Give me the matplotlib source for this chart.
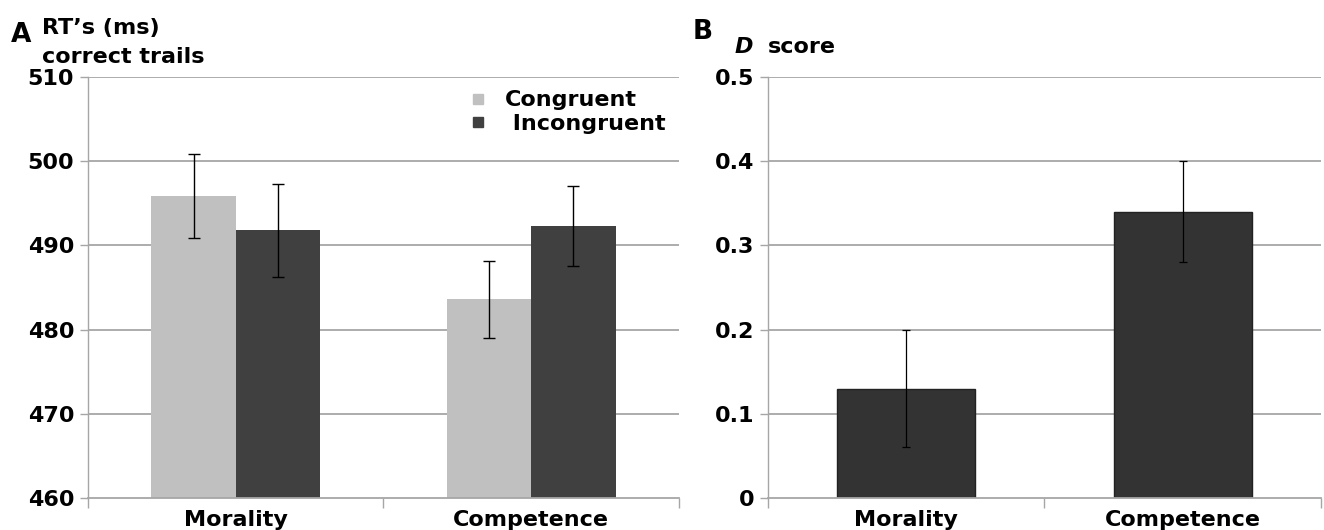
import matplotlib
matplotlib.use("Agg")
import matplotlib.pyplot as plt
from matplotlib.lines import Line2D
import numpy as np

plt.rcParams.update({
"font.family": "DejaVu Sans",
"font.weight": "bold",
"axes.edgecolor": "#a6a6a6",
"xtick.color": "#a6a6a6",
"ytick.color": "#a6a6a6",
"figure.facecolor": "white"})

# data
categories = ["Morality", "Competence"]
congruent = [495.9, 483.6]
congruent_err = [5.0, 4.6]
incongruent = [491.8, 492.3]
incongruent_err = [5.5, 4.7]
d_score = [0.13, 0.34]
d_err = [0.07, 0.06]

rt_ticks = [460, 470, 480, 490, 500, 510]
d_ticks = [0, 0.1, 0.2, 0.3, 0.4, 0.5]
d_ticklabels = ["0", "0.1", "0.2", "0.3", "0.4", "0.5"]

light = "#c0c0c0"
dark = "#404040"
grid_c = "#a6a6a6"

fig = plt.figure(figsize=(13.24, 5.3), dpi=100)
axA = fig.add_axes([0.0665, 0.0604, 0.4463, 0.7943])
axB = fig.add_axes([0.580, 0.0604, 0.4177, 0.7943])

def style(ax, ticks, labels):
    ax.set_xlim(-0.5, 1.5)
    ax.set_ylim(ticks[0], ticks[-1])
    ax.set_yticks(ticks)
    ax.set_yticklabels(labels, fontsize=16, fontweight="bold", color="black")
    for t in ticks[1:]:
        ax.axhline(t, color=grid_c, lw=1.3, zorder=0)
    ax.set_xticks([0, 1])
    ax.set_xticklabels(categories, fontsize=16, fontweight="bold", color="black")
    ax.set_xticks([-0.5, 0.5, 1.5], minor=True)
    ax.tick_params(axis="x", which="major", length=0, pad=9)
    ax.tick_params(axis="x", which="minor", length=7, width=1, direction="out")
    ax.tick_params(axis="y", length=6, width=1, pad=4)
    for s in ["top", "right"]:
        ax.spines[s].set_visible(False)
    ax.spines["left"].set_linewidth(1)
    ax.spines["bottom"].set_linewidth(1.3)

# panel A
x = np.arange(len(categories))
w = 0.2857
ekw = dict(ecolor="black", elinewidth=1, capsize=4, capthick=1)
axA.bar(x - w / 2, congruent, w, color=light, yerr=congruent_err, error_kw=ekw, zorder=2)
axA.bar(x + w / 2, incongruent, w, color=dark, yerr=incongruent_err, error_kw=ekw, zorder=2)
style(axA, rt_ticks, [str(t) for t in rt_ticks])

handles = [Line2D([], [], marker="s", ls="", color=light, markersize=7),
           Line2D([], [], marker="s", ls="", color=dark, markersize=7)]
axA.legend(handles, ["Congruent", " Incongruent"], loc="upper right",
           bbox_to_anchor=(1.0, 1.0), frameon=False, handlelength=0.6,
           handletextpad=0.9, labelspacing=0.15, borderaxespad=0.2,
           prop={"size": 16, "weight": "bold"})

# panel B
axB.bar(x, d_score, 0.5, color="#333333", edgecolor="#222222", lw=1,
        yerr=d_err, error_kw=dict(ecolor="black", elinewidth=0.9, capsize=3, capthick=0.9), zorder=2)
style(axB, d_ticks, d_ticklabels)

# panel letters and axis titles
fig.text(0.008, 0.934, "A", fontsize=19, fontweight="bold", va="center")
fig.text(0.032, 0.947, "RT\u2019s (ms)", fontsize=16, fontweight="bold", va="center")
fig.text(0.032, 0.892, "correct trails", fontsize=16, fontweight="bold", va="center")
fig.text(0.523, 0.940, "B", fontsize=19, fontweight="bold", va="center")
fig.text(0.555, 0.912, "D", fontsize=16, fontweight="bold", style="italic", va="center")
fig.text(0.580, 0.912, "score", fontsize=16, fontweight="bold", va="center")

fig.savefig("out.png", dpi=100)
